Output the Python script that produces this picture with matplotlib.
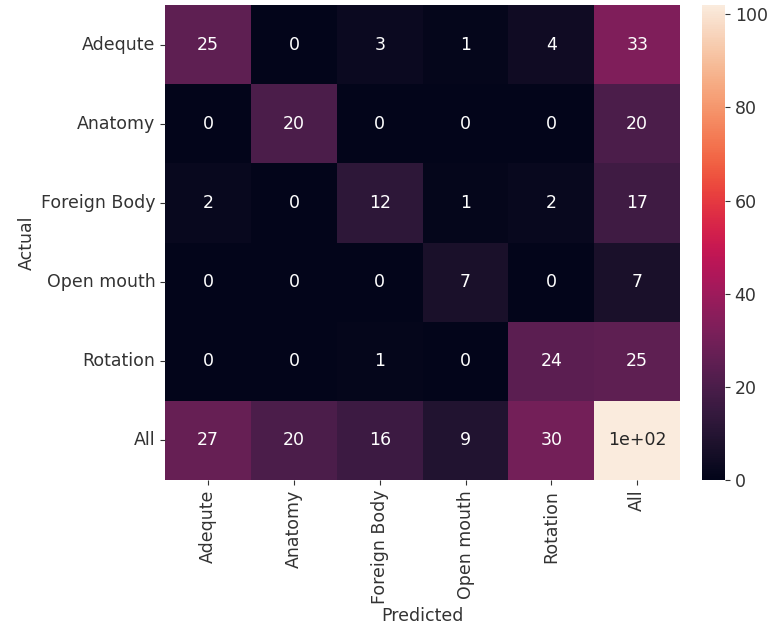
import matplotlib
matplotlib.use("Agg")
import matplotlib.pyplot as plt
import numpy as np
import pandas as pd
import seaborn as sns

labels = ["Adequte", "Anatomy", "Foreign Body", "Open mouth", "Rotation", "All"]

row_adequte = [25, 0, 3, 1, 4, 33]
row_anatomy = [0, 20, 0, 0, 0, 20]
row_foreign = [2, 0, 12, 1, 2, 17]
row_openmouth = [0, 0, 0, 7, 0, 7]
row_rotation = [0, 0, 1, 0, 24, 25]
row_all = [27, 20, 16, 9, 30, 102]

cm = pd.DataFrame([row_adequte, row_anatomy, row_foreign, row_openmouth, row_rotation, row_all],
                  index=labels, columns=labels)

fs = 12.5
txt = '#333333'

fig = plt.figure(figsize=(7.72, 6.3), dpi=100)
ax = fig.add_axes([0.214, 0.238, 0.667, 0.754])
cax = fig.add_axes([0.909, 0.238, 0.030, 0.754])

sns.heatmap(cm, annot=True, ax=ax, cbar_ax=cax, annot_kws={'fontsize': fs})

ax.set_xlabel('Predicted', fontsize=fs, color=txt, labelpad=2)
ax.set_ylabel('Actual', fontsize=fs, color=txt)
ax.tick_params(labelsize=fs, labelcolor=txt, color=txt)
cax.tick_params(labelsize=fs, labelcolor=txt, color=txt)

fig.savefig('out.png', dpi=100)
